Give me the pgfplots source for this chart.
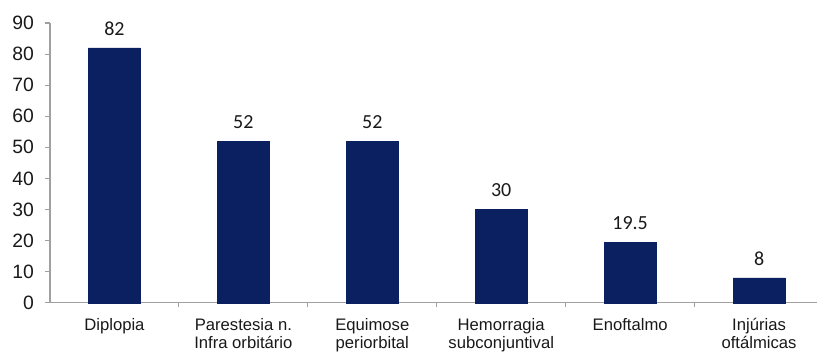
\documentclass[border=0pt]{standalone}
\usepackage{pgfplots}
\pgfplotsset{compat=1.18}
\usepackage{fontspec}
\setmainfont{Liberation Sans}
\newfontfamily\calib{Carlito}
\definecolor{barblue}{RGB}{11,32,96}
\definecolor{axgray}{RGB}{160,160,160}
\definecolor{txt}{RGB}{25,25,25}
\begin{document}
\begin{tikzpicture}
\begin{axis}[
  scale only axis,
  width=576pt, height=210pt,
  xmin=-0.5, xmax=5.453,
  ymin=0, ymax=90,
  ytick={0,10,...,90},
  xtick={0,...,5},
  xticklabels={Diplopia,{Parestesia n.\\Infra orbitário},{Equimose\\periorbital},{Hemorragia\\subconjuntival},Enoftalmo,{Injúrias\\oftálmicas}},
  minor xtick={0.5,1.5,2.5,3.5,4.5},
  axis x line=bottom, axis y line=left,
  axis line style={axgray, line width=0.8pt, -},
  major tick length=4pt, minor tick length=3.5pt,
  tick align=outside,
  tick style={axgray, line width=0.8pt},
  major x tick style={draw=none},
  minor x tick style={axgray, line width=0.8pt},
  /pgf/number format/assume math mode=true,
  yticklabel style={font=\fontsize{14.5}{16}\selectfont, text=txt, xshift=-4.5pt},
  xticklabel style={font=\fontsize{12.5}{13.5}\selectfont, text=txt, align=center, anchor=north, yshift=-4pt},
  ybar, bar width=39pt,
  nodes near coords,
  nodes near coords style={font=\calib\fontsize{15}{17}\selectfont, text=txt, yshift=6pt},
  point meta=explicit symbolic,
  clip=false,
]
\addplot[fill=barblue, draw=barblue] coordinates {
  (0,82) [82] (1,52) [52] (2,52) [52] (3,30) [30] (4,19.5) [19.5] (5,8) [8]
};
\coordinate (ll) at (rel axis cs:0,0);
\coordinate (ur) at (rel axis cs:1,1);
\end{axis}
\useasboundingbox ([xshift=-37.5pt,yshift=-33pt]ll) rectangle ([yshift=17.25pt]ur);
\end{tikzpicture}
\end{document}
